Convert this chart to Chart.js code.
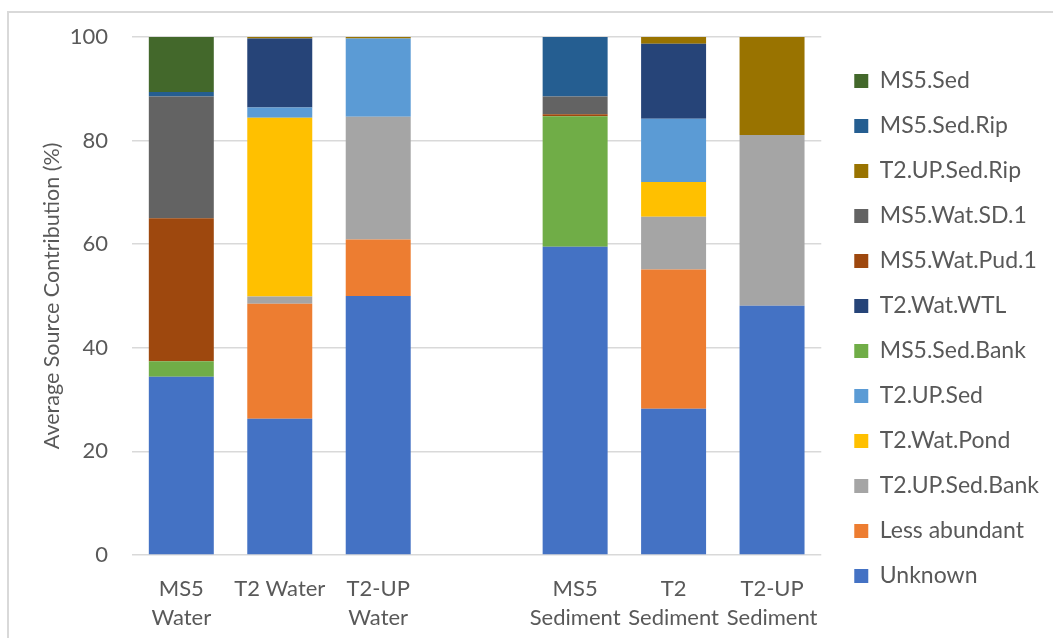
<!DOCTYPE html>
<html lang="en">
<head>
<meta charset="UTF-8">
<title>Average Source Contribution</title>
<script src="https://cdn.jsdelivr.net/npm/chart.js"></script>
<style>
  html, body { margin: 0; padding: 0; overflow: hidden; background: #fff; }
  #wrap { position: relative; width: 1053px; height: 638px; }
  #frame { position: absolute; left: 7px; top: 11px; right: -10px; bottom: -10px;
           border-left: 2px solid #d9d9d9; border-top: 2px solid #d9d9d9; pointer-events: none; }
  canvas { position: absolute; left: 0; top: 0; }
</style>
</head>
<body>
<div id="wrap">
  <canvas id="chart" width="1053" height="638"></canvas>
  <div id="frame"></div>
</div>
<script>
// sample groups (blank slot separates water from sediment)
const categories = [['MS5', 'Water'], 'T2 Water', ['T2-UP', 'Water'], '', ['MS5', 'Sediment'], ['T2', 'Sediment'], ['T2-UP', 'Sediment']];

// source contributions (%), bottom of stack first
const unknown      = [34.4, 26.3, 50.0, null, 59.5, 28.2, 48.1];
const lessAbundant = [0, 22.2, 10.9, null, 0, 26.9, 0];
const t2UpSedBank  = [0, 1.4, 23.7, null, 0, 10.2, 33.0];
const t2WatPond    = [0, 34.5, 0, null, 0, 6.7, 0];
const t2UpSed      = [0, 2.0, 15.1, null, 0, 12.2, 0];
const ms5SedBank   = [3.0, 0, 0, null, 25.2, 0, 0];
const t2WatWtl     = [0, 13.3, 0, null, 0, 14.5, 0];
const ms5WatPud1   = [27.6, 0, 0, null, 0.4, 0, 0];
const ms5WatSd1    = [23.5, 0, 0, null, 3.4, 0, 0];
const t2UpSedRip   = [0, 0.3, 0.3, null, 0, 1.3, 18.9];
const ms5SedRip    = [0.9, 0, 0, null, 11.5, 0, 0];
const ms5Sed       = [10.6, 0, 0, null, 0, 0, 0];

const yTicks = [0, 20, 40, 60, 80, 100];

const series = [
    ['Unknown', unknown, '#4472C4'],
    ['Less abundant', lessAbundant, '#ED7D31'],
    ['T2.UP.Sed.Bank', t2UpSedBank, '#A5A5A5'],
    ['T2.Wat.Pond', t2WatPond, '#FFC000'],
    ['T2.UP.Sed', t2UpSed, '#5B9BD5'],
    ['MS5.Sed.Bank', ms5SedBank, '#70AD47'],
    ['T2.Wat.WTL', t2WatWtl, '#264478'],
    ['MS5.Wat.Pud.1', ms5WatPud1, '#9E480E'],
    ['MS5.Wat.SD.1', ms5WatSd1, '#636363'],
    ['T2.UP.Sed.Rip', t2UpSedRip, '#997300'],
    ['MS5.Sed.Rip', ms5SedRip, '#255E91'],
    ['MS5.Sed', ms5Sed, '#43682B']
];

Chart.defaults.font.family = 'Lato';
Chart.defaults.color = '#595959';

const ctx = document.getElementById('chart').getContext('2d');
new Chart(ctx, {
    type: 'bar',
    data: {
        labels: categories,
        datasets: series.map(([label, data, color]) => ({
            label: label,
            data: data,
            backgroundColor: color,
            borderWidth: 0,
            barPercentage: 0.66,
            categoryPercentage: 1
        }))
    },
    options: {
        responsive: false,
        animation: false,
        layout: { padding: { left: 31, right: 4, top: 25, bottom: 6 } },
        plugins: {
            tooltip: { enabled: false },
            legend: {
                position: 'right',
                reverse: true,
                maxWidth: 300,
                labels: {
                    boxWidth: 14,
                    boxHeight: 14,
                    padding: 22,
                    font: { size: 23 },
                    color: '#595959'
                }
            }
        },
        scales: {
            x: {
                stacked: true,
                grid: { display: false, drawTicks: false },
                border: { display: false },
                ticks: { padding: 19, maxRotation: 0, autoSkip: false, font: { size: 22, lineHeight: 1.32 } },
                // chart.js reserves the tick padding twice; keep it once
                afterFit: (s) => { s.height -= s.options.ticks.padding; }
            },
            y: {
                stacked: true,
                min: 0,
                max: 100,
                afterBuildTicks: (s) => { s.ticks = yTicks.map(v => ({ value: v })); },
                afterFit: (s) => { s.paddingTop = 37; s.width -= s.options.ticks.padding; },
                grid: { color: '#d9d9d9', lineWidth: 1.5, drawTicks: false },
                border: { display: false },
                ticks: { padding: 24, font: { size: 22 } },
                title: {
                    display: true,
                    text: 'Average Source Contribution (%)',
                    font: { size: 21.5 },
                    padding: { top: 8, bottom: 5 }
                }
            },
            gap: {
                position: 'right',
                display: true,
                grid: { display: false },
                border: { display: false },
                ticks: { display: false },
                afterFit: (s) => { s.width = 11; }
            }
        }
    }
});
</script>
</body>
</html>
